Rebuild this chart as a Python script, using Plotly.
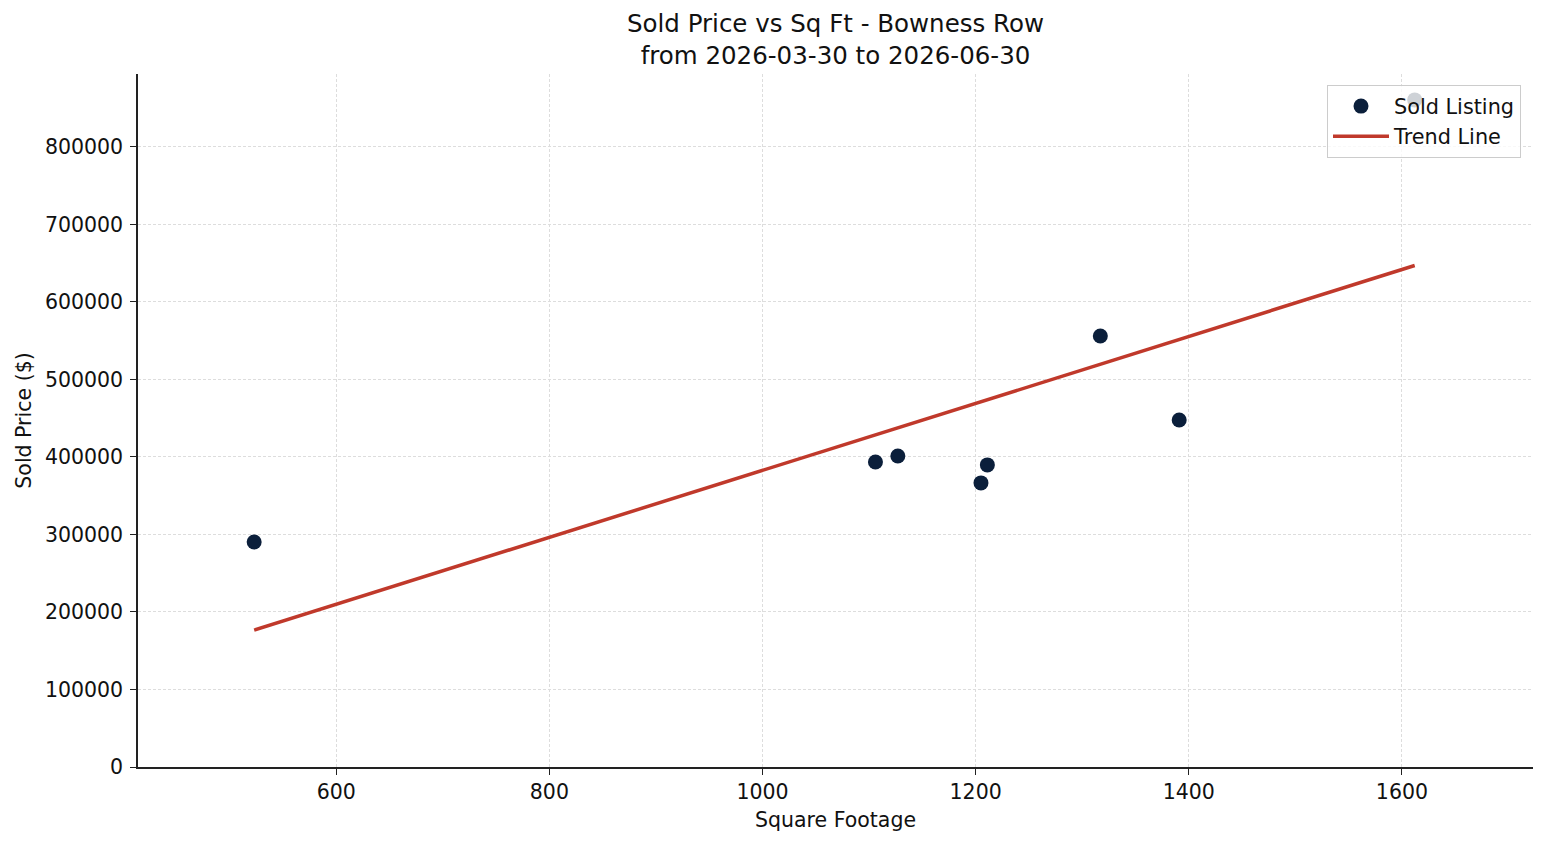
import numpy as np
import plotly.graph_objects as go

sqft = [523, 1106, 1127, 1205, 1211, 1317, 1391, 1612]
price = [290300, 393500, 401300, 366500, 389700, 556100, 447700, 860600]

x_ticks = [600, 800, 1000, 1200, 1400, 1600]
y_ticks = [0, 100000, 200000, 300000, 400000, 500000, 600000, 700000, 800000]

title_text = "Sold Price vs Sq Ft - Bowness Row<br>from 2026-03-30 to 2026-06-30"

coef = np.polyfit(sqft, price, 1)
trend_x = [min(sqft), max(sqft)]
trend_y = [float(np.polyval(coef, v)) for v in trend_x]

FONT = "DejaVu Sans"

fig = go.Figure()
fig.add_trace(go.Scatter(
    x=sqft, y=price, mode="markers", name="Sold Listing",
    marker=dict(size=15, color="#0b1f3b", line=dict(width=0)),
))
fig.add_trace(go.Scatter(
    x=trend_x, y=trend_y, mode="lines", name="Trend Line",
    line=dict(color="#c0392b", width=3.5),
))

axis_common = dict(
    showgrid=True, gridcolor="#dddddd", griddash="3px,2px", gridwidth=1,
    showline=True, linecolor="#222222", linewidth=1.5,
    ticks="outside", ticklen=6, tickwidth=1.2, tickcolor="#222222",
    zeroline=False, mirror=False,
    tickfont=dict(family=FONT, size=20.5, color="#111111"),
)

fig.update_layout(
    width=1547, height=845,
    margin=dict(l=138, r=14, t=74, b=78),
    paper_bgcolor="white", plot_bgcolor="white",
    font=dict(family=FONT, color="#111111"),
    title=dict(text=title_text, x=(138 + 1533) / 2 / 1547, xanchor="center",
               y=0.962, yanchor="top", yref="container",
               font=dict(family=FONT, size=24.5, color="#111111")),
    xaxis=dict(range=[414, 1723], tickvals=x_ticks,
               title=dict(text="Square Footage", font=dict(family=FONT, size=20.5), standoff=9),
               **axis_common),
    yaxis=dict(range=[0, 894000], tickvals=y_ticks, tickformat="d", ticklabelstandoff=3,
               title=dict(text="Sold Price ($)", font=dict(family=FONT, size=20.5), standoff=8),
               **axis_common),
    legend=dict(x=0.9914, y=0.984, xanchor="right", yanchor="top", itemwidth=56,
                bgcolor="rgba(255,255,255,0.8)", bordercolor="#cccccc", borderwidth=1,
                font=dict(family=FONT, size=20.8, color="#111111")),
    showlegend=True,
)

fig.write_html("out.html")
